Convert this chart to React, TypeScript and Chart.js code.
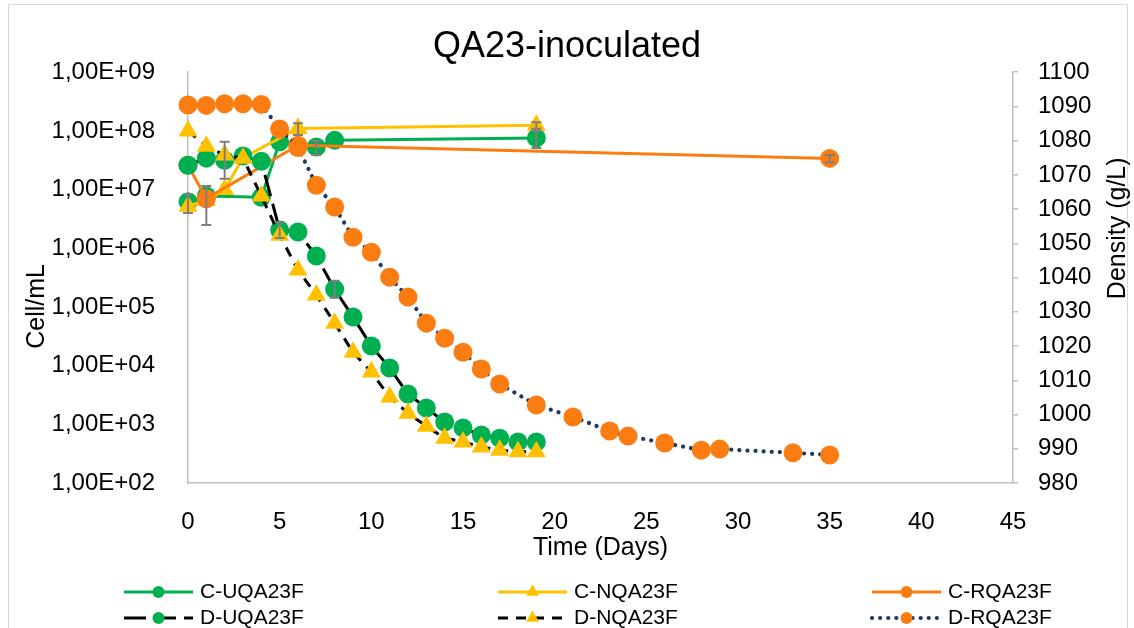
import React, { useEffect, useRef } from 'react';
import { Chart, registerables } from 'chart.js';

Chart.register(...registerables);

const FONT = "'Liberation Sans', Arial, Helvetica, sans-serif";

const chartTitle = 'QA23-inoculated';
const xTitle = 'Time (Days)';
const yLeftTitle = 'Cell/mL';
const yRightTitle = 'Density (g/L)';

const cellTicks = [1e2, 1e3, 1e4, 1e5, 1e6, 1e7, 1e8, 1e9];
const densityMin = 980;
const densityMax = 1100;
const densityStep = 10;
const dayMin = 0;
const dayMax = 45;
const dayStep = 5;

// C-UQA23F (cells/mL)
const cuDays = [0, 1, 4, 5, 6, 7, 8, 19];
const cuCells = [6.2e6, 7.8e6, 7.4e6, 6.5e7, 5.5e7, 5.3e7, 6.9e7, 7.6e7];
const cuErr = [2.2e6, 0, 0, 0, 0, 1.4e7, 0, 2.5e7];

// C-NQA23F (cells/mL)
const cnDays = [0, 1, 2, 3, 6, 19];
const cnCells = [5.2e6, 6.5e6, 1.0e7, 3.5e7, 1.1e8, 1.25e8];
const cnErr = [0, 0, 0, 0, 2.5e7, 1.6e7];

// C-RQA23F (cells/mL)
const crDays = [0, 1, 6, 35];
const crCells = [2.6e7, 7.0e6, 5.7e7, 3.4e7];
const crErr = [0, 4.5e6, 0, 5e6];

// D-UQA23F (density g/L)
const duDays = [0, 1, 2, 3, 4, 5, 6, 7, 8, 9, 10, 11, 12, 13, 14, 15, 16, 17, 18, 19];
const duDensity = [1072.8, 1074.9, 1074.3, 1075.5, 1074.0, 1053.9, 1053.3, 1046.3, 1036.6, 1028.5, 1020.0, 1013.6, 1006.0, 1001.9, 997.8, 996.1, 994.0, 993.1, 992.0, 992.0];
const duErr = [0, 0, 5.4, 0, 0, 2.3, 0, 0, 2.5, 0, 0, 0, 0, 0, 0, 0, 0, 0, 0, 0];

// D-NQA23F (density g/L)
const dnDays = [0, 1, 2, 3, 4, 5, 6, 7, 8, 9, 10, 11, 12, 13, 14, 15, 16, 17, 18, 19];
const dnDensity = [1082.8, 1078.4, 1075.8, 1074.9, 1063.8, 1052.4, 1042.2, 1034.9, 1026.7, 1018.2, 1012.4, 1005.1, 1000.4, 996.6, 993.1, 992.0, 990.5, 989.6, 989.1, 989.1];

// D-RQA23F (density g/L)
const drDays = [0, 1, 2, 3, 4, 5, 6, 7, 8, 9, 10, 11, 12, 13, 14, 15, 16, 17, 19, 21, 23, 24, 26, 28, 29, 33, 35];
const drDensity = [1090.4, 1090.3, 1090.8, 1090.8, 1090.6, 1083.4, 1078.0, 1067.0, 1060.6, 1051.8, 1047.4, 1040.1, 1034.3, 1026.7, 1022.3, 1018.2, 1013.3, 1008.9, 1002.8, 999.3, 995.2, 993.7, 991.7, 989.6, 989.9, 988.8, 988.2];

const GREEN = '#00B050';
const YELLOW = '#FFC000';
const ORANGE = '#FB7D12';
const NAVY = '#203864';
const AXIS_GRAY = '#BFBFBF';
const ERR_GRAY = '#7F7F7F';

const pts = (xs: number[], ys: number[]) => xs.map((x, i) => ({ x, y: ys[i] }));

function drawMarker(ctx: CanvasRenderingContext2D, style: string, x: number, y: number, r: number, color: string) {
  ctx.fillStyle = color;
  ctx.beginPath();
  if (style === 'triangle') {
    for (let k = 0; k < 3; k++) {
      const a = (k * 2 * Math.PI) / 3;
      const px = x + Math.sin(a) * r;
      const py = y - Math.cos(a) * r;
      if (k === 0) ctx.moveTo(px, py);
      else ctx.lineTo(px, py);
    }
    ctx.closePath();
  } else {
    ctx.arc(x, y, r, 0, Math.PI * 2);
  }
  ctx.fill();
}

const errorBarPlugin = {
  id: 'errorBars',
  afterDatasetsDraw(chart: any) {
    const ctx = chart.ctx as CanvasRenderingContext2D;
    chart.data.datasets.forEach((ds: any, i: number) => {
      const err = ds.errors as number[] | undefined;
      if (!err) return;
      const meta = chart.getDatasetMeta(i);
      const yScale = chart.scales[ds.yAxisID];
      ds.data.forEach((pt: any, j: number) => {
        const e = err[j];
        if (!e) return;
        const x = meta.data[j].x;
        const yTop = yScale.getPixelForValue(pt.y + e);
        const yBot = yScale.getPixelForValue(Math.max(pt.y - e, yScale.min));
        ctx.save();
        ctx.strokeStyle = ERR_GRAY;
        ctx.lineWidth = 2;
        ctx.beginPath();
        ctx.moveTo(x, yTop);
        ctx.lineTo(x, yBot);
        ctx.moveTo(x - 5, yTop);
        ctx.lineTo(x + 5, yTop);
        ctx.moveTo(x - 5, yBot);
        ctx.lineTo(x + 5, yBot);
        ctx.stroke();
        ctx.restore();
      });
    });
  },
};

const decorPlugin = {
  id: 'decor',
  afterDraw(chart: any) {
    const ctx = chart.ctx as CanvasRenderingContext2D;
    // outer frame
    ctx.save();
    ctx.strokeStyle = '#D9D9D9';
    ctx.lineWidth = 1;
    ctx.beginPath();
    ctx.moveTo(8.5, 640);
    ctx.lineTo(8.5, 4.5);
    ctx.lineTo(1127.5, 4.5);
    ctx.lineTo(1127.5, 640);
    ctx.stroke();
    ctx.restore();

    // axis titles
    const area = chart.chartArea;
    ctx.save();
    ctx.fillStyle = '#000';
    ctx.font = `25px ${FONT}`;
    ctx.textAlign = 'center';
    ctx.textBaseline = 'middle';
    ctx.translate(37, area.top + (area.bottom - area.top) * 0.57);
    ctx.rotate(-Math.PI / 2);
    ctx.fillText(yLeftTitle, 0, 0);
    ctx.restore();

    ctx.save();
    ctx.fillStyle = '#000';
    ctx.font = `25px ${FONT}`;
    ctx.textAlign = 'center';
    ctx.textBaseline = 'middle';
    ctx.translate(1118, area.top + (area.bottom - area.top) * 0.38);
    ctx.rotate(-Math.PI / 2);
    ctx.fillText(yRightTitle, 0, 0);
    ctx.restore();

    // legend: 3 columns x 2 rows
    const cols = [124, 498, 872];
    const rows = [592, 618];
    const lineLen = 69;
    chart.data.datasets.forEach((ds: any, i: number) => {
      const x0 = cols[i % 3];
      const y = rows[Math.floor(i / 3)];
      ctx.save();
      ctx.strokeStyle = ds.borderColor;
      ctx.lineWidth = ds.borderWidth;
      ctx.lineCap = ds.borderCapStyle || 'butt';
      ctx.setLineDash(ds.borderDash || []);
      ctx.beginPath();
      ctx.moveTo(x0, y);
      ctx.lineTo(x0 + lineLen, y);
      ctx.stroke();
      ctx.setLineDash([]);
      drawMarker(ctx, ds.pointStyle, x0 + lineLen / 2, y, ds.pointStyle === 'triangle' ? 7.5 : 6, ds.pointBackgroundColor);
      ctx.fillStyle = '#000';
      ctx.font = `21px ${FONT}`;
      ctx.textAlign = 'left';
      ctx.textBaseline = 'middle';
      ctx.fillText(ds.label, x0 + lineLen + 7, y);
      ctx.restore();
    });
  },
};

function makeSeries(label: string, data: any[], opts: any) {
  return {
    label,
    data,
    showLine: true,
    borderWidth: 3,
    pointRadius: opts.pointStyle === 'triangle' ? 11 : 9.5,
    pointHoverRadius: opts.pointStyle === 'triangle' ? 11 : 9.5,
    pointBorderWidth: 0,
    clip: false,
    ...opts,
  };
}

export default function App() {
  const canvasRef = useRef<HTMLCanvasElement | null>(null);

  useEffect(() => {
    if (!canvasRef.current) return;
    const tickFont = { size: 24, family: FONT };
    const datasets: any[] = [
      makeSeries('C-UQA23F', pts(cuDays, cuCells), {
        yAxisID: 'yCells', borderColor: GREEN, pointStyle: 'circle',
        pointBackgroundColor: GREEN, pointBorderColor: GREEN, errors: cuErr, order: 5,
      }),
      makeSeries('C-NQA23F', pts(cnDays, cnCells), {
        yAxisID: 'yCells', borderColor: YELLOW, pointStyle: 'triangle',
        pointBackgroundColor: YELLOW, pointBorderColor: YELLOW, errors: cnErr, order: 4,
      }),
      makeSeries('C-RQA23F', pts(crDays, crCells), {
        yAxisID: 'yCells', borderColor: ORANGE, pointStyle: 'circle',
        pointBackgroundColor: ORANGE, pointBorderColor: ORANGE, errors: crErr, order: 3,
      }),
      makeSeries('D-UQA23F', pts(duDays, duDensity), {
        yAxisID: 'yDensity', borderColor: '#000000', borderDash: [22, 8], pointStyle: 'circle',
        pointBackgroundColor: GREEN, pointBorderColor: GREEN, errors: duErr, order: 2,
      }),
      makeSeries('D-NQA23F', pts(dnDays, dnDensity), {
        yAxisID: 'yDensity', borderColor: '#000000', borderDash: [10, 8], pointStyle: 'triangle',
        pointBackgroundColor: YELLOW, pointBorderColor: YELLOW, order: 1,
      }),
      makeSeries('D-RQA23F', pts(drDays, drDensity), {
        yAxisID: 'yDensity', borderColor: NAVY, borderDash: [0.1, 8], borderCapStyle: 'round',
        borderWidth: 4.2, pointStyle: 'circle',
        pointBackgroundColor: ORANGE, pointBorderColor: ORANGE, order: 0,
      }),
    ];

    const chart = new Chart(canvasRef.current, {
      type: 'scatter',
      data: { datasets },
      options: {
        animation: false,
        responsive: false,
        devicePixelRatio: 1,
        layout: { padding: { left: 0, right: 0, top: 0, bottom: 65 } },
        plugins: {
          legend: { display: false },
          tooltip: { enabled: false },
          title: {
            display: true,
            text: chartTitle,
            color: '#000',
            font: { size: 36, family: FONT, weight: 'normal' },
            padding: { top: 25, bottom: 4 },
          },
        },
        scales: {
          x: {
            type: 'linear',
            min: dayMin,
            max: dayMax,
            ticks: { stepSize: dayStep, font: tickFont, color: '#000', padding: 17, autoSkip: false, maxRotation: 0 },
            grid: { display: false },
            border: { display: true, color: AXIS_GRAY, width: 1.5 },
            title: { display: true, text: xTitle, color: '#000', font: { size: 25, family: FONT }, padding: { top: 0, bottom: 0 } },
            afterFit: (s: any) => { s.height = 80; },
          },
          yCells: {
            type: 'logarithmic',
            position: 'left',
            min: cellTicks[0],
            max: cellTicks[cellTicks.length - 1],
            afterBuildTicks: (s: any) => { s.ticks = cellTicks.map((value) => ({ value })); },
            ticks: {
              font: tickFont,
              color: '#000',
              padding: 25,
              autoSkip: false,
              callback: (v: any) => {
                const e = Math.round(Math.log10(Number(v)));
                return `1,00E+${String(e).padStart(2, '0')}`;
              },
            },
            grid: { display: false },
            border: { display: true, color: AXIS_GRAY, width: 1.5 },
            afterFit: (s: any) => { s.width = 188; },
          },
          yDensity: {
            type: 'linear',
            position: 'right',
            min: densityMin,
            max: densityMax,
            ticks: {
              stepSize: densityStep,
              font: tickFont,
              color: '#000',
              padding: 20,
              autoSkip: false,
              callback: (v: any) => String(v),
            },
            grid: { display: true, drawOnChartArea: false, drawTicks: true, tickLength: 5, color: AXIS_GRAY, lineWidth: 1.5 },
            border: { display: true, color: AXIS_GRAY, width: 1.5 },
            afterFit: (s: any) => { s.width = 121; },
          },
        },
      },
      plugins: [errorBarPlugin, decorPlugin],
    } as any);

    return () => chart.destroy();
  }, []);

  return (
    <canvas
      ref={canvasRef}
      width={1134}
      height={628}
      style={{ position: 'fixed', left: 0, top: 0, width: '1134px', height: '628px', background: '#fff' }}
    />
  );
}
